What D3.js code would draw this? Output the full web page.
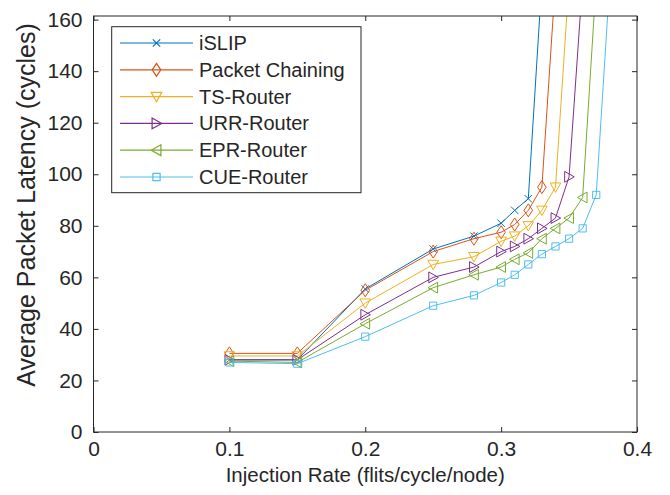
<!DOCTYPE html>
<html>
<head>
<meta charset="utf-8">
<script src="https://cdn.jsdelivr.net/npm/d3@7"></script>
<style>
  body { margin: 0; background: #fff; }
  svg { display: block; font-family: "Liberation Sans", Arial, sans-serif; }
  .axis text { fill: #262626; font-size: 21px; }
  .axis line { stroke: #262626; }
  .axis path { display: none; }
</style>
</head>
<body>
<div id="chart"></div>
<script>
// series data (injection rate -> latency)
var names = ["iSLIP", "Packet Chaining", "TS-Router", "URR-Router", "EPR-Router", "CUE-Router"];
var colors = ["#0072BD", "#D95319", "#EDB120", "#7E2F8E", "#77AC30", "#4DBEEE"];
var markers = ["x", "diamond", "down", "right", "left", "square"];

var rateISLIP = [0.1, 0.15, 0.2, 0.25, 0.28, 0.3, 0.31, 0.32, 0.33];
var latISLIP  = [28, 28, 55.5, 71, 76, 81, 86, 90.5, 175];
var ratePC = [0.1, 0.15, 0.2, 0.25, 0.28, 0.3, 0.31, 0.32, 0.33, 0.34];
var latPC  = [30.5, 30.5, 55, 70, 75, 77.5, 80.5, 86, 95, 175];
var rateTS = [0.1, 0.15, 0.2, 0.25, 0.28, 0.3, 0.31, 0.32, 0.33, 0.34, 0.35];
var latTS  = [29.5, 29.5, 50, 65, 68, 74, 76, 80, 86, 95, 175];
var rateURR = [0.1, 0.15, 0.2, 0.25, 0.28, 0.3, 0.31, 0.32, 0.33, 0.34, 0.35, 0.36];
var latURR  = [28, 28, 45.5, 60, 64, 70, 72, 75, 79, 83, 99, 175];
var rateEPR = [0.1, 0.15, 0.2, 0.25, 0.28, 0.3, 0.31, 0.32, 0.33, 0.34, 0.35, 0.36, 0.37];
var latEPR  = [27.5, 27, 42, 56, 61, 64, 67, 69.5, 75, 79, 83, 91, 175];
var rateCUE = [0.1, 0.15, 0.2, 0.25, 0.28, 0.3, 0.31, 0.32, 0.33, 0.34, 0.35, 0.36, 0.37, 0.38];
var latCUE  = [27, 26.5, 37, 49, 53, 58, 61, 65, 69, 72, 75, 79, 92, 175];

var xTicks = [0, 0.1, 0.2, 0.3, 0.4];
var yTicks = [0, 20, 40, 60, 80, 100, 120, 140, 160];

var allRates = [rateISLIP, ratePC, rateTS, rateURR, rateEPR, rateCUE];
var allLats = [latISLIP, latPC, latTS, latURR, latEPR, latCUE];

var series = names.map((n, i) => ({
    name: n, color: colors[i], marker: markers[i],
    values: allRates[i].map((r, j) => ({x: r, y: allLats[i][j]}))
}));

var width = 670, height = 495;
var axLeft = 93.5, axRight = 637, axTop = 16, axBottom = 432;

var svg = d3.select("#chart").append("svg")
    .attr("width", width).attr("height", height);

var x = d3.scaleLinear().domain([0, 0.4]).range([axLeft, axRight]);
var y = d3.scaleLinear().domain([0, 161.4]).range([axBottom, axTop]);

svg.append("rect")
    .attr("x", axLeft).attr("y", axTop)
    .attr("width", axRight - axLeft).attr("height", axBottom - axTop)
    .attr("fill", "#fff");

// axes, ticks pointing inwards like matlab
svg.append("g").attr("class", "axis")
    .attr("transform", "translate(0," + axBottom + ")")
    .call(d3.axisBottom(x).tickValues(xTicks).tickSize(-5).tickPadding(9)
        .tickFormat(d => d === 0 ? "0" : d3.format(".1f")(d)));
svg.append("g").attr("class", "axis")
    .attr("transform", "translate(0," + axTop + ")")
    .call(d3.axisTop(x).tickValues(xTicks).tickSize(-5).tickFormat(""));
svg.append("g").attr("class", "axis")
    .attr("transform", "translate(" + axLeft + ",0)")
    .call(d3.axisLeft(y).tickValues(yTicks).tickSize(-5).tickPadding(11));
svg.append("g").attr("class", "axis")
    .attr("transform", "translate(" + axRight + ",0)")
    .call(d3.axisRight(y).tickValues(yTicks).tickSize(-5).tickFormat(""));

svg.append("defs").append("clipPath").attr("id", "clip")
    .append("rect")
    .attr("x", axLeft).attr("y", axTop)
    .attr("width", axRight - axLeft).attr("height", axBottom - axTop);

//marker shapes
function markerPath(type) {
    switch (type) {
        case "x": return "M-3.7,-3.7L3.7,3.7M-3.7,3.7L3.7,-3.7";
        case "diamond": return "M0,-6.5L4.3,0L0,6.5L-4.3,0Z";
        case "down": return "M-5.3,-4.2L5.3,-4.2L0,5.2Z";
        case "right": return "M-4.4,-5.4L5.2,0L-4.4,5.4Z";
        case "left": return "M4.4,-5.4L-5.2,0L4.4,5.4Z";
        case "square": return "M-3.6,-3.6H3.6V3.6H-3.6Z";
    }
}

var line = d3.line().x(d => x(d.x)).y(d => y(d.y));

var plot = svg.append("g").attr("clip-path", "url(#clip)");

series.forEach(s => {
    plot.append("path")
        .datum(s.values)
        .attr("d", line)
        .attr("fill", "none")
        .attr("stroke", s.color)
        .attr("stroke-width", 1);
    plot.selectAll(null)
        .data(s.values)
        .enter().append("path")
        .attr("transform", d => "translate(" + x(d.x) + "," + y(d.y) + ")")
        .attr("d", markerPath(s.marker))
        .attr("fill", "none")
        .attr("stroke", s.color)
        .attr("stroke-width", 1);
});

// box outline
svg.append("rect")
    .attr("x", axLeft).attr("y", axTop)
    .attr("width", axRight - axLeft).attr("height", axBottom - axTop)
    .attr("fill", "none").attr("stroke", "#262626").attr("stroke-width", 1);

// axis labels
svg.append("text")
    .attr("x", (axLeft + axRight) / 2).attr("y", 482)
    .attr("text-anchor", "middle")
    .attr("fill", "#262626").style("font-size", "20.5px")
    .text("Injection Rate (flits/cycle/node)");

svg.append("text")
    .attr("transform", "translate(26,205) rotate(-90)")
    .attr("text-anchor", "middle").attr("dominant-baseline", "central")
    .attr("fill", "#262626").style("font-size", "25px")
    .text("Average Packet Latency (cycles)");

// legend
var legend = svg.append("g");
legend.append("rect")
    .attr("x", 111.7).attr("y", 26.7)
    .attr("width", 249.3).attr("height", 166)
    .attr("fill", "#fff").attr("stroke", "#262626").attr("stroke-width", 1);

series.forEach((s, i) => {
    let ly = 43 + i * 26.8;
    legend.append("line")
        .attr("x1", 120).attr("x2", 193).attr("y1", ly).attr("y2", ly)
        .attr("stroke", s.color).attr("stroke-width", 1.2);
    legend.append("path")
        .attr("transform", "translate(156.5," + ly + ")")
        .attr("d", markerPath(s.marker))
        .attr("fill", "none").attr("stroke", s.color).attr("stroke-width", 1.2);
    legend.append("text")
        .attr("x", 199).attr("y", ly)
        .attr("dominant-baseline", "central")
        .attr("fill", "#262626").style("font-size", "20px")
        .text(s.name);
});
</script>
</body>
</html>
